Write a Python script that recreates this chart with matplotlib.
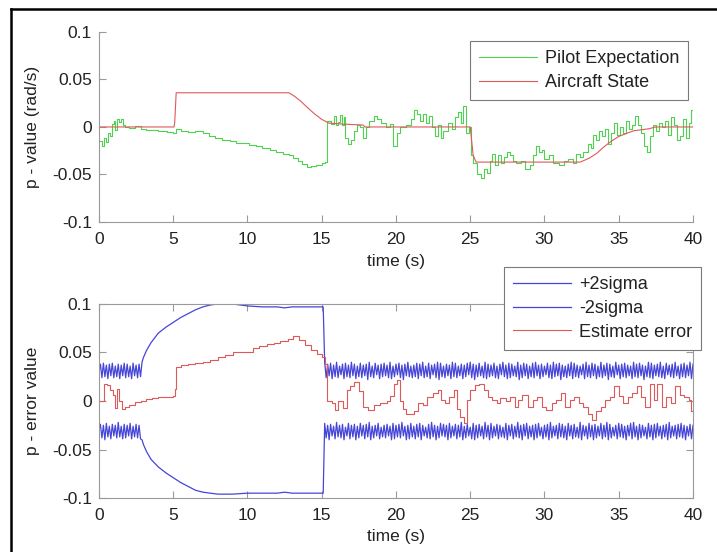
import numpy as np
import matplotlib
matplotlib.use("Agg")
import matplotlib.pyplot as plt
from matplotlib.lines import Line2D

plt.rcParams["font.family"] = ["Liberation Sans", "DejaVu Sans"]

# values are in units of 1e-3 rad/s
pilot_t = [0.0, 0.2, 0.35, 0.5, 0.6, 0.75, 0.85, 1.0, 1.1, 1.2, 1.35, 1.5, 1.6, 1.75,
           2.0, 2.4, 2.8, 3.2, 4.0, 4.6, 5.0, 5.2, 5.5, 6.0, 6.5, 7.0, 7.4, 7.8, 8.3,
           8.8, 9.2, 9.6, 10.1, 10.6, 11.0, 11.5, 11.9, 12.4, 12.8, 13.1, 13.4, 13.7,
           14.0, 14.3, 14.6, 15.0, 15.2, 15.35, 15.6, 15.8, 15.95, 16.1, 16.2, 16.35,
           16.5, 16.6, 16.8, 17.0, 17.2, 17.4, 17.6, 17.8, 17.95, 18.2, 18.5, 18.7,
           19.0, 19.3, 19.6, 19.8, 20.1, 20.3, 20.7, 21.0, 21.2, 21.4, 21.6, 21.8,
           22.0, 22.2, 22.4, 22.6, 22.8, 23.0, 23.2, 23.5, 23.8, 24.0, 24.2, 24.4,
           24.5, 24.7, 24.9, 25.05, 25.2, 25.45, 25.7, 25.9, 26.1, 26.3, 26.5, 26.7,
           26.9, 27.1, 27.3, 27.5, 27.7, 27.9, 28.1, 28.4, 28.7, 29.0, 29.2, 29.4,
           29.6, 29.8, 30.0, 30.3, 30.6, 31.0, 31.3, 31.6, 31.9, 32.1, 32.4, 32.6,
           32.9, 33.1, 33.3, 33.5, 33.7, 33.9, 34.1, 34.3, 34.5, 34.7, 34.9, 35.1,
           35.3, 35.5, 35.7, 35.9, 36.1, 36.3, 36.5, 36.7, 36.9, 37.1, 37.3, 37.5,
           37.7, 37.9, 38.1, 38.3, 38.5, 38.7, 38.9, 39.1, 39.3, 39.5, 39.7, 39.85, 40.0]
pilot_v = [-15, -20, -12, -16, -6, -10, 3, 6, -3, 8, 5, 8, 2, 0,
           -1, 1, -2, -3, -4, -5, -6, -2, -4, -5, -4, -6, -10, -12, -14,
           -15, -17, -17, -19, -20, -22, -24, -26, -28, -30, -33, -36, -39,
           -42, -41, -40, -38, -37, 6, 3, 12, 2, 5, 13, 2,
           10, -12, -18, -14, -4, 2, 0, -12, 0, 6, 12, 8,
           4, 0, 3, -20, -6, 0, 2, 8, 18, 14, 6, 14,
           4, 12, 0, -10, 2, -12, -4, 4, -2, 10, 16, 4,
           22, -6, 0, -30, -38, -50, -54, -44, -48, -36, -28, -40,
           -30, -38, -32, -26, -30, -36, -38, -36, -44, -40, -30, -20,
           -26, -24, -34, -30, -38, -40, -36, -34, -38, -28, -32, -26,
           -18, -22, -8, -14, -4, -10, -2, -18, -6, 4, -8, 0,
           -6, 6, -2, 2, 12, 2, -6, -20, -26, -10, 2, -4,
           4, 0, 6, -8, 10, 2, -14, -10, 8, -12, 4, 18, 0]

state_t = [0, 5.05, 5.1, 5.2, 12.8, 13.2, 13.6, 14.0, 14.5, 15.0, 15.5, 16.5, 17.8,
           17.9, 25.0, 25.2, 25.4, 32.4, 33.0, 33.5, 34.0, 34.5, 35.0, 35.5, 36.0,
           37.0, 37.5, 40.0]
state_v = [0, 0, 4, 36, 36, 32, 27, 21, 14, 8, 4, 3, 2,
           0, 0, -30, -37, -37, -33, -28, -21, -15, -10, -7, -4,
           -2, 0, 0]

# 2-sigma bounds: sampled every 0.1 s before 2.9 s and after 15.2 s
band_a_t = np.arange(0, 2.95, 0.1)
up_a = [30, 38, 24, 39, 25, 37, 23, 38, 26, 39, 24, 36, 25, 38, 23, 37, 26, 39, 24,
        38, 25, 36, 23, 39, 26, 37, 24, 38, 25, 40]
lo_a = [-30, -24, -38, -25, -40, -23, -37, -26, -39, -24, -36, -25, -38, -22, -37,
        -26, -39, -24, -38, -25, -36, -23, -39, -26, -37, -24, -38, -25, -39, -40]

mid_t = [3.0, 3.2, 3.5, 4.0, 4.5, 5.0, 5.5, 6.0, 6.5, 7.0, 7.5, 8.0, 9.0, 10.0,
         11.0, 12.0, 12.5, 13.0, 14.0, 15.0, 15.1]
up_mid = [45, 52, 60, 70, 76, 81, 86, 90, 94, 97, 99, 100, 100, 98,
          97, 97, 96, 97, 97, 97, 97]
lo_mid = [-45, -52, -60, -68, -74, -79, -84, -88, -92, -94, -95, -96, -96, -95,
          -95, -95, -94, -95, -95, -95, -95]

band_b_t = np.arange(15.2, 40.01, 0.1)
up_b = [40, 24, 38, 26, 39, 23, 37, 25, 40, 24, 36, 27, 38, 23, 39, 25, 37, 24, 40, 26,
        38, 23, 36, 25, 39, 24, 37, 26, 38, 22, 40, 25, 36, 24, 39, 27, 37, 23, 38, 25,
        39, 26, 37, 24, 40, 23, 36, 25, 38, 27, 39, 24, 37, 22, 38, 26, 40, 25, 36, 24,
        37, 25, 39, 23, 38, 26, 40, 24, 36, 25, 39, 23, 37, 27, 38, 24, 40, 22, 39, 25,
        36, 24, 38, 26, 37, 23, 40, 25, 39, 24, 36, 26, 38, 23, 37, 25, 39, 27, 40, 24,
        38, 22, 37, 25, 39, 26, 36, 24, 40, 23, 38, 25, 37, 26, 39, 24, 36, 23, 38, 27,
        40, 25, 37, 23, 39, 24, 38, 26, 36, 25, 40, 22, 37, 24, 39, 26, 38, 23, 36, 25,
        39, 24, 40, 26, 37, 23, 38, 25, 36, 27, 39, 24, 37, 23, 40, 25, 38, 26, 39, 22,
        37, 25, 36, 24, 38, 26, 40, 23, 39, 25, 37, 24, 36, 27, 38, 23, 40, 25, 37, 24,
        39, 26, 38, 23, 36, 25, 40, 24, 37, 26, 39, 22, 38, 25, 36, 24, 40, 27, 37, 23,
        38, 25, 39, 24, 37, 26, 36, 23, 40, 25, 38, 24, 39, 26, 37, 22, 36, 25, 40, 24,
        39, 23, 37, 26, 38, 25, 40, 24, 36, 23, 39, 27, 37, 25, 38, 24, 40, 26, 36, 23,
        38, 25, 39, 24, 37, 26, 40, 23, 38]
lo_b = [-23, -38, -25, -40, -24, -36, -26, -39, -22, -37, -25, -38, -24, -40, -27, -36, -23, -39, -25, -37,
        -24, -40, -26, -38, -23, -36, -25, -39, -24, -37, -22, -40, -26, -38, -25, -36, -23, -39, -27, -37,
        -25, -38, -24, -36, -26, -40, -23, -39, -25, -37, -24, -38, -22, -36, -26, -40, -25, -39, -23, -37,
        -26, -39, -24, -37, -23, -40, -25, -36, -27, -38, -24, -39, -22, -37, -25, -40, -26, -38, -23, -36,
        -24, -37, -25, -40, -23, -38, -26, -36, -24, -39, -25, -37, -22, -40, -26, -38, -24, -36, -27, -39,
        -23, -40, -25, -38, -24, -36, -26, -39, -22, -37, -25, -40, -23, -38, -26, -36, -24, -39, -25, -37,
        -27, -38, -23, -40, -25, -36, -24, -39, -26, -37, -22, -38, -25, -40, -24, -36, -23, -39, -26, -37,
        -25, -40, -24, -38, -23, -36, -27, -39, -25, -37, -24, -40, -22, -38, -26, -36, -25, -39, -23, -37,
        -24, -38, -26, -40, -23, -36, -25, -39, -24, -37, -27, -38, -22, -40, -25, -36, -26, -39, -23, -37,
        -25, -40, -24, -38, -26, -36, -23, -39, -25, -37, -22, -40, -24, -38, -27, -36, -25, -39, -23, -37,
        -24, -38, -26, -40, -25, -36, -23, -39, -22, -37, -26, -40, -24, -38, -25, -36, -27, -39, -23, -37,
        -25, -40, -24, -38, -23, -36, -26, -39, -25, -37, -24, -40, -22, -38, -26, -36, -25, -39, -24, -37,
        -23, -38, -25, -40, -26, -36, -24, -39, -25]

err_t = [0.0, 0.35, 0.55, 0.75, 0.95, 1.05, 1.2, 1.35, 1.55, 1.75, 2.0, 2.4, 2.8, 3.2,
         3.6, 4.0, 4.5, 5.0, 5.1, 5.2, 5.5, 6.0, 6.5, 7.0, 7.5, 8.0, 8.5, 9.0, 9.5,
         10.0, 10.4, 10.8, 11.3, 11.8, 12.2, 12.7, 13.1, 13.5, 13.9, 14.3, 14.7,
         15.0, 15.2, 15.35, 15.7, 15.9, 16.1, 16.4, 16.7, 16.9, 17.2, 17.5, 17.8,
         18.1, 18.5, 18.9, 19.4, 19.6, 19.9, 20.1, 20.3, 20.5, 20.7, 21.2, 21.5,
         21.8, 22.1, 22.5, 22.8, 23.0, 23.3, 23.6, 23.9, 24.1, 24.3, 24.6, 24.8,
         25.0, 25.3, 25.6, 25.9, 26.2, 26.5, 26.8, 27.0, 27.4, 27.7, 28.0, 28.2,
         28.5, 28.9, 29.2, 29.5, 29.8, 30.1, 30.5, 30.8, 31.1, 31.4, 31.7, 32.0,
         32.3, 32.6, 32.9, 33.2, 33.5, 33.8, 34.1, 34.4, 34.7, 35.0, 35.3, 35.6,
         35.9, 36.2, 36.5, 36.8, 37.1, 37.4, 37.6, 37.9, 38.2, 38.5, 38.8, 39.1,
         39.4, 39.7, 39.9, 40.0]
err_v = [0, 18, 16, 11, 6, -7, 12, 0, -8, -6, -4, -1, 0, 2,
         3, 4, 4, 5, 12, 35, 37, 38, 39, 40, 42, 45, 47, 50, 51,
         51, 55, 57, 59, 60, 62, 64, 67, 63, 58, 53, 48,
         45, 38, 0, -2, -9, 0, -7, 11, 15, 20, 10, -6,
         -9, -4, -2, 0, 5, 18, 22, 0, -8, -13, -10, -2,
         -4, 4, 8, 11, 1, -2, 4, 11, -8, -16, -23, 1,
         11, 16, 18, 11, 4, 1, -2, 3, 0, 4, -6, 1,
         6, -6, 1, 4, -6, -9, -2, 1, 8, -6, 1, 4,
         -2, -6, -13, -20, -10, -6, 1, 4, 15, 5, -2, 4,
         8, 15, 4, -6, 18, 1, 18, -6, 4, -2, 15, 6,
         4, 1, -10, -10]

yticks = [-0.1, -0.05, 0, 0.05, 0.1]
ytick_labels = ["-0.1", "-0.05", "0", "0.05", "0.1"]
xticks = [0, 5, 10, 15, 20, 25, 30, 35, 40]

green = "#4fd24f"
red = "#dd5a5a"
blue = "#4545d8"
grey = "#9a9a9a"
txt = "#222222"
fs = 12.5

s = 1e-3
fig = plt.figure(figsize=(7.17, 5.52), dpi=100)
ax1 = fig.add_axes([0.138, 0.598, 0.8285, 0.344])
ax2 = fig.add_axes([0.138, 0.0978, 0.8285, 0.3515])

ax1.plot(pilot_t, np.array(pilot_v) * s, color=green, lw=0.8, drawstyle="steps-post",
         label="Pilot Expectation")
ax1.plot(state_t, np.array(state_v) * s, color=red, lw=0.8, label="Aircraft State")

up_t = np.concatenate([band_a_t, mid_t, band_b_t])
up = np.concatenate([up_a, up_mid, up_b]) * s
lo = np.concatenate([lo_a, lo_mid, lo_b]) * s
ax2.plot(up_t, up, color=blue, lw=0.9, label="+2sigma")
ax2.plot(up_t, lo, color=blue, lw=0.9, label="-2sigma")
ax2.plot(err_t, np.array(err_v) * s, color=red, lw=0.8, drawstyle="steps-post",
         label="Estimate error")

for ax in (ax1, ax2):
    ax.set_xlim(0, 40)
    ax.set_ylim(-0.1, 0.1)
    ax.set_xticks(xticks)
    ax.set_yticks(yticks)
    ax.set_yticklabels(ytick_labels)
    ax.tick_params(direction="in", length=5, width=0.8, color=grey, labelcolor=txt,
                   labelsize=fs)
    ax.tick_params(axis="x", pad=7)
    ax.tick_params(axis="y", pad=5)
    for sp in ax.spines.values():
        sp.set_color(grey)
        sp.set_linewidth(0.8)
    ax.set_xlabel("time (s)", fontsize=fs, color=txt)

ax1.spines["top"].set_visible(False)
ax1.spines["right"].set_visible(False)
ax2.tick_params(top=True, right=True)

ax1.set_ylabel("p - value (rad/s)", fontsize=fs, color=txt)
ax2.set_ylabel("p - error value", fontsize=fs, color=txt)
ax1.yaxis.set_label_coords(-0.1, 0.5)
ax2.yaxis.set_label_coords(-0.1, 0.5)
ax1.xaxis.set_label_coords(0.5, -0.17)
ax2.xaxis.set_label_coords(0.5, -0.16)

leg_kw = dict(fontsize=13, frameon=True, fancybox=False, borderaxespad=0,
              handlelength=3.2, handletextpad=0.45, labelspacing=0.38, borderpad=0.5)
l1 = ax1.legend(loc="upper right", bbox_to_anchor=(0.9596, 0.9257),
                bbox_transform=fig.transFigure, **leg_kw)
l2 = ax2.legend(loc="upper right", bbox_to_anchor=(0.9777, 0.5163),
                bbox_transform=fig.transFigure, **leg_kw)
for lg in (l1, l2):
    fr = lg.get_frame()
    fr.set_edgecolor("#7a7a7a")
    fr.set_linewidth(0.8)
    fr.set_alpha(1)
    for t in lg.get_texts():
        t.set_color(txt)

# outer frame (only left and top edges are visible in the crop)
fx = 11 / 717
fy = 1 - 9 / 552
fig.add_artist(Line2D([fx, fx], [0, fy], color="black", lw=1.8))
fig.add_artist(Line2D([fx, 1], [fy, fy], color="black", lw=1.8))

fig.savefig("out.png", dpi=100)
